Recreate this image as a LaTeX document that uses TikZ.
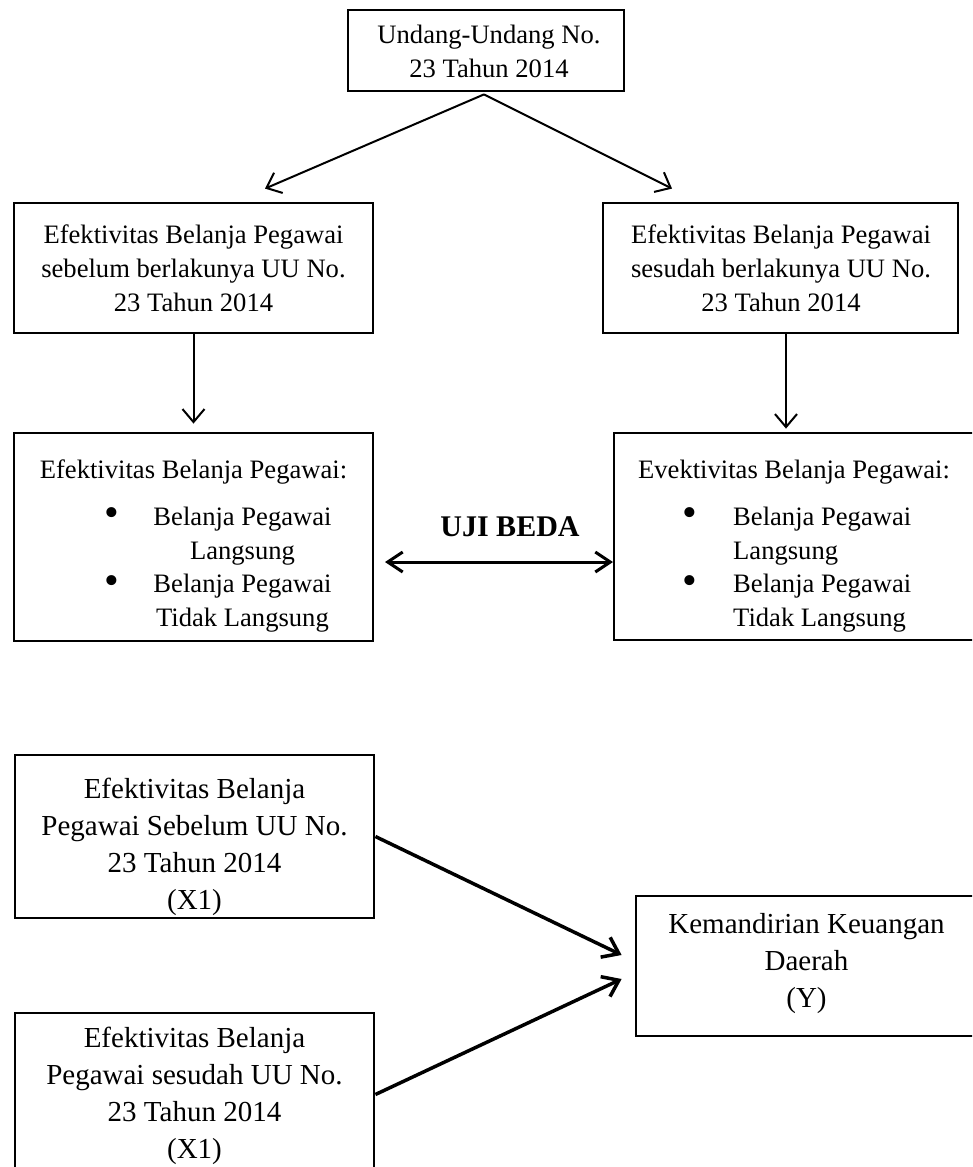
\documentclass[tikz,border=0pt]{standalone}
\usepackage{fontspec}
\setmainfont{Liberation Serif}
\usetikzlibrary{arrows.meta}
\tikzset{
  box/.style={draw, line width=2.8pt, rectangle, inner sep=0pt},
  txt/.style={align=center, inner sep=0pt, font=\fontsize{26.6}{34}\selectfont},
  txtl/.style={align=left, inner sep=0pt, font=\fontsize{26.6}{34}\selectfont},
  txtb/.style={align=center, inner sep=0pt, font=\fontsize{29}{37}\selectfont},
  bul/.style={inner sep=0pt, font=\fontsize{42}{42}\selectfont},
  thinarrow/.style={line width=2pt, -{Straight Barb[length=13pt,width=22pt]}},
  dblarrow/.style={line width=3pt, {Straight Barb[length=15pt,width=20pt]}-{Straight Barb[length=15pt,width=20pt]}},
  thickarrow/.style={line width=3.5pt, -{Straight Barb[length=15pt,width=22pt]}},
}
\begin{document}
\begin{tikzpicture}[x=1pt,y=-1pt]
\useasboundingbox (0,0) rectangle (972,1167);
\clip (0,0) rectangle (972,1167);
% boxes
\node[box, minimum width=276pt, minimum height=81pt] (top) at (486,50.5) {};
\node[box, minimum width=359pt, minimum height=130pt] (b2l) at (193.5,268) {};
\node[box, minimum width=355pt, minimum height=130pt] (b2r) at (780.5,268) {};
\node[box, minimum width=359pt, minimum height=208pt] (b3l) at (193.5,537) {};
\node[box, minimum width=360pt, minimum height=207pt] (b3r) at (794,536.5) {};
\node[box, minimum width=359pt, minimum height=163pt] (x1a) at (194.5,836.5) {};
\node[box, minimum width=359pt, minimum height=163pt] (x1b) at (194.5,1094.5) {};
\node[box, minimum width=341pt, minimum height=140pt] (kem) at (806.5,966) {};
% texts
\node[txt] (ttop) at (489,51.5) {Undang-Undang No.\\23 Tahun 2014};
\node[txt] (t2l) at (193.5,268.5) {Efektivitas Belanja Pegawai\\sebelum berlakunya UU No.\\23 Tahun 2014};
\node[txt] (t2r) at (781,268.5) {Efektivitas Belanja Pegawai\\sesudah berlakunya UU No.\\23 Tahun 2014};
\node[txt] (t3l) at (193.5,472) {Efektivitas Belanja Pegawai:};
\node[bul] (bl1) at (112,517) {\textbullet};
\node[bul] (bl2) at (112,585) {\textbullet};
\node[txt] (il1) at (242.5,536) {Belanja Pegawai\\Langsung};
\node[txt] (il2) at (242.5,603.5) {Belanja Pegawai\\Tidak Langsung};
\node[txt] (t3r) at (794,472) {Evektivitas Belanja Pegawai:};
\node[bul] (br1) at (690,517) {\textbullet};
\node[bul] (br2) at (690,585) {\textbullet};
\node[txtl, anchor=west] (ir1) at (733,536) {Belanja Pegawai\\Langsung};
\node[txtl, anchor=west] (ir2) at (733,603.5) {Belanja Pegawai\\Tidak Langsung};
\node[inner sep=0pt, font=\fontsize{30}{36}\selectfont\bfseries] (uji) at (510,527) {UJI BEDA};
\node[txtb] (tx1a) at (194.5,847) {Efektivitas Belanja\\Pegawai Sebelum UU No.\\23 Tahun 2014\\(X1)};
\node[txtb] (tx1b) at (194.5,1096) {Efektivitas Belanja\\Pegawai sesudah UU No.\\23 Tahun 2014\\(X1)};
\node[txtb] (tkem) at (806.5,963.5) {Kemandirian Keuangan\\Daerah\\(Y)};
% connectors
\draw[thinarrow] ([xshift=-2pt,yshift=-2pt]top.south) -- ([xshift=71.5pt,yshift=13pt]b2l.north);
\draw[thinarrow] ([xshift=-2pt,yshift=-2pt]top.south) -- ([xshift=-108.5pt,yshift=13pt]b2r.north);
\draw[thinarrow] (b2l.south) -- ([yshift=8pt]b3l.north);
\draw[thinarrow] ([xshift=5.5pt]b2r.south) -- ([xshift=-8pt,yshift=3pt]b3r.north);
\coordinate (dl) at (385,562);
\coordinate (dr) at (613,562);
\draw[dblarrow] (dl) -- (dr);
\draw[thickarrow] (x1a.east) -- ([xshift=-13pt,yshift=11pt]kem.west);
\draw[thickarrow] (x1b.east) -- ([xshift=-13pt,yshift=-13pt]kem.west);
\end{tikzpicture}
\end{document}
